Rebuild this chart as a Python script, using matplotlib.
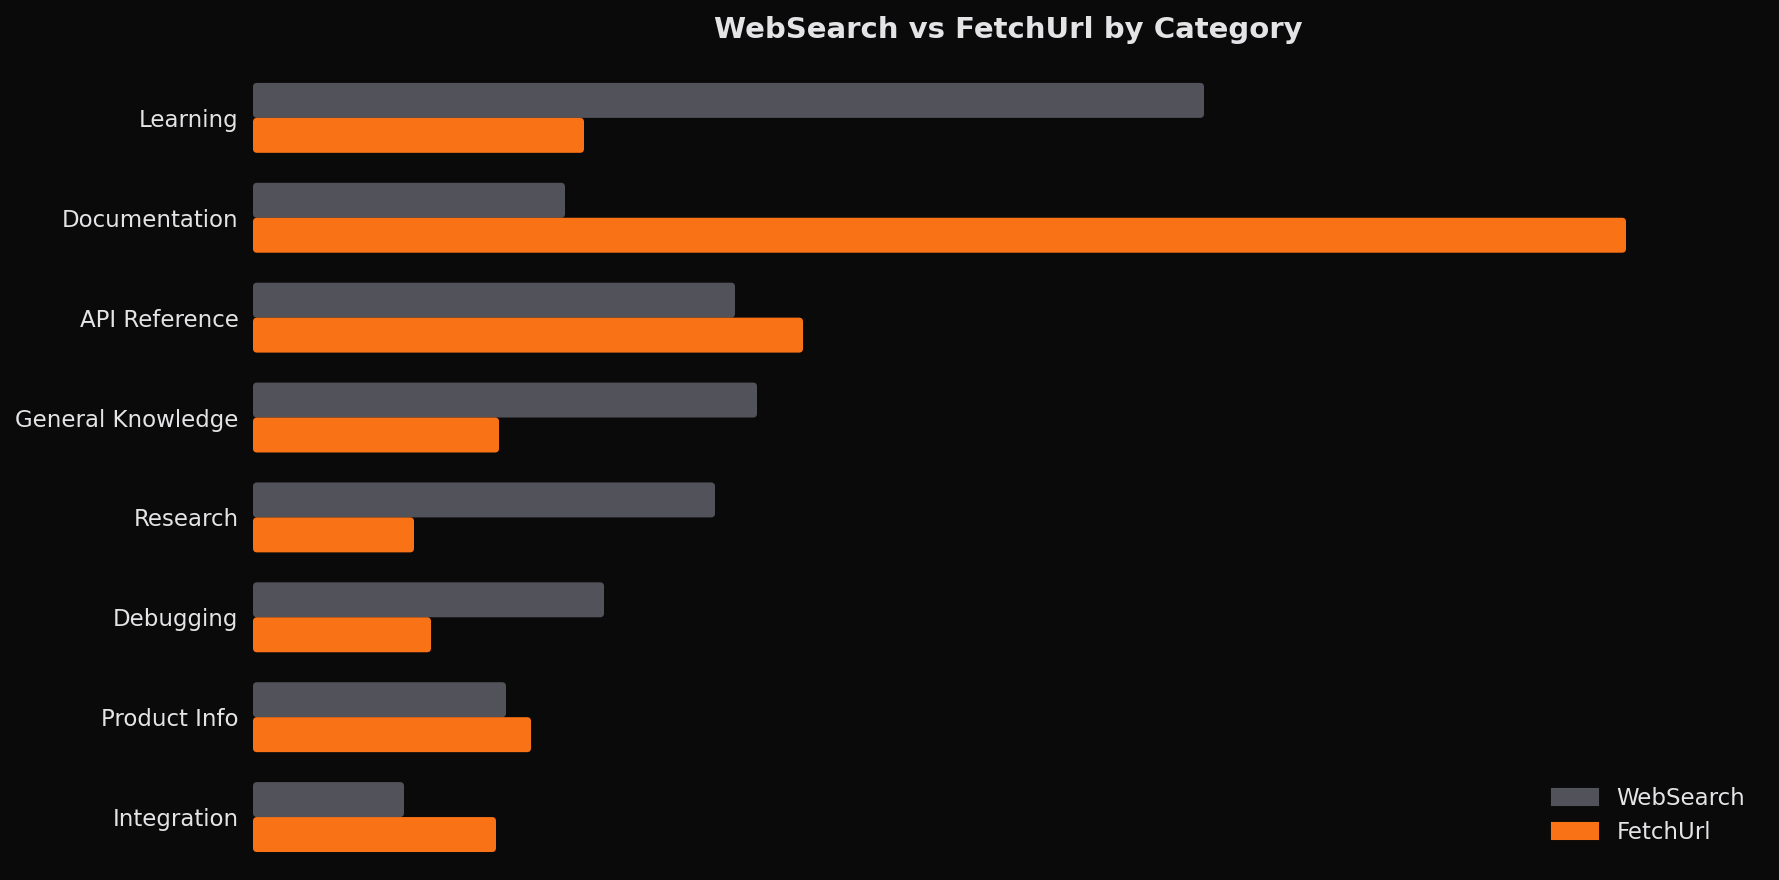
import numpy as np
import matplotlib.pyplot as plt
from matplotlib.patches import FancyBboxPatch, Patch

categories = ['Learning', 'Documentation', 'API Reference', 'General Knowledge',
              'Research', 'Debugging', 'Product Info', 'Integration']
websearch = [951, 312, 482, 504, 462, 351, 253, 151]
fetchurl = [331, 1373, 550, 246, 161, 178, 278, 243]

bg = '#0a0a0a'
txt = '#e4e4e7'
c_ws = '#52525b'
c_fu = '#f97316'

W, H = 1779, 880
fig = plt.figure(figsize=(11.86, 5.867), dpi=150, facecolor=bg)
ax = fig.add_axes([253 / W, 1 - 870 / H, 1510 / W, 820 / H])
ax.set_facecolor(bg)

y = np.arange(len(categories))
h = 0.35
b1 = ax.barh(y - h / 2, websearch, h, color=c_ws)
b2 = ax.barh(y + h / 2, fetchurl, h, color=c_fu)
ax.set_xlim(0, 1510)
ax.set_ylim(7.53, -0.68)

# round the bar corners
x_per_px = 1510 / 1510
y_per_px = (7.53 + 0.68) / 820
asp = y_per_px / x_per_px
for bars in (b1, b2):
    for r in bars:
        fb = FancyBboxPatch((r.get_x(), r.get_y()), r.get_width(), r.get_height(),
                            boxstyle='round,pad=0,rounding_size=4',
                            mutation_aspect=asp, fc=r.get_facecolor(), ec='none')
        ax.add_patch(fb)
        r.set_visible(False)

ax.set_yticks(y)
ax.set_yticklabels(categories, color=txt, fontsize=11)
ax.set_xticks([])
ax.tick_params(axis='y', length=0, pad=7)
for s in ax.spines.values():
    s.set_visible(False)

ax.set_title('WebSearch vs FetchUrl by Category', color=txt, fontsize=14,
             fontweight='bold', pad=6)

handles = [Patch(color=c_ws, label='WebSearch'), Patch(color=c_fu, label='FetchUrl')]
leg = fig.legend(handles=handles, loc='lower right', bbox_to_anchor=(0.9926, 0.017),
                 frameon=False, fontsize=11, labelcolor=txt, labelspacing=0.5)

fig.savefig('out.png', dpi=150, facecolor=bg)
